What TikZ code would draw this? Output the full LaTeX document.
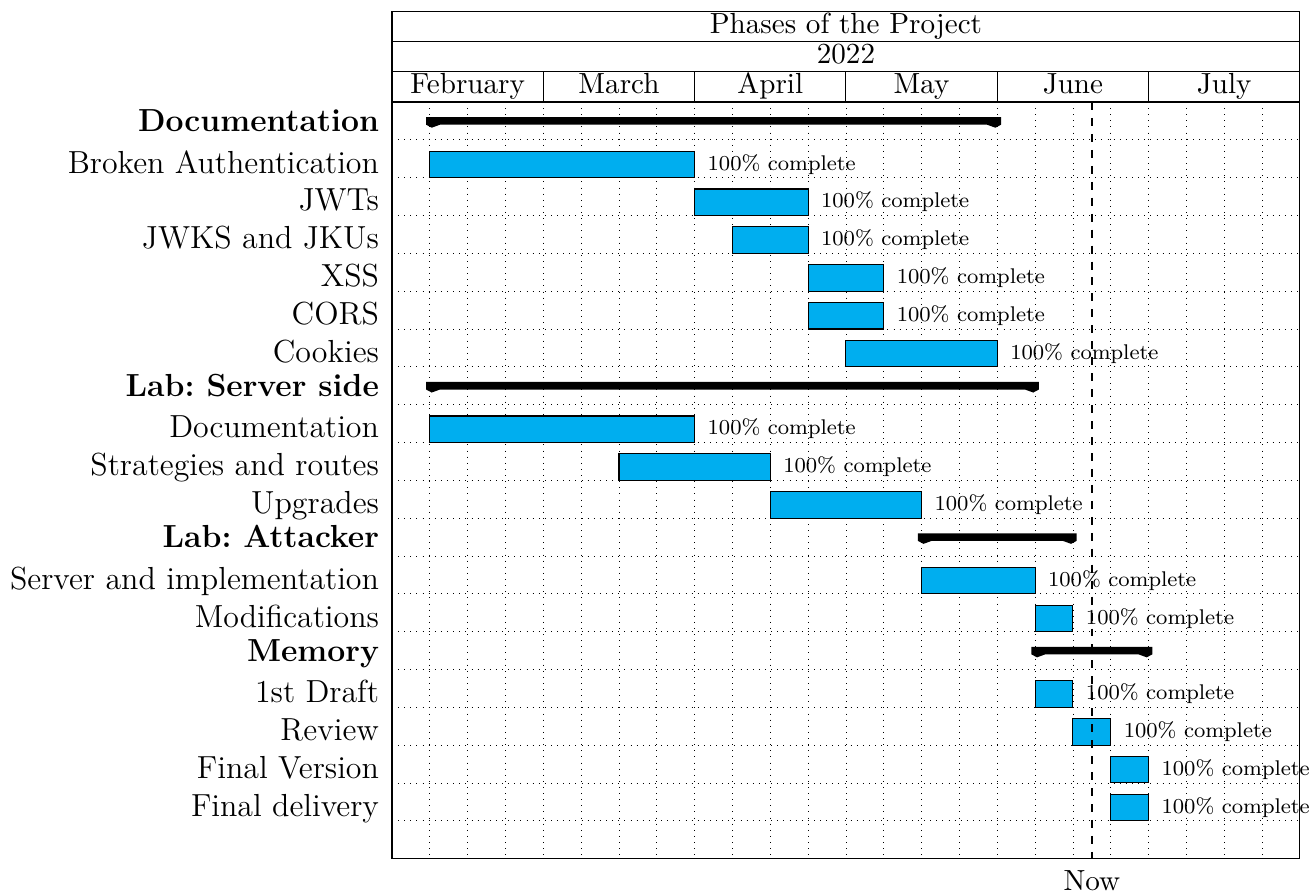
\documentclass[tikz,border=0pt]{standalone}
\usepackage{xcolor}
\usepackage{tikz}
\usetikzlibrary{calc}

\definecolor{barblue}{RGB}{0,174,239}

\tikzset{
	taskbar/.style={fill=barblue, draw=black},
	grouplabel/.style={anchor=base east, inner sep=0pt, font=\fontsize{12}{14}\selectfont\bfseries\frenchspacing},
	tasklabel/.style={anchor=base east, inner sep=0pt, font=\fontsize{12}{14}\selectfont},
	donelabel/.style={anchor=base west, inner sep=0pt, font=\fontsize{8}{9.5}\selectfont},
	headtext/.style={anchor=base, inner sep=0pt, font=\fontsize{10.95}{13.6}\selectfont},
	gridline/.style={dotted, line width=0.3pt},
	nowline/.style={dashed, line width=1pt},
}

\begin{document}
\begin{tikzpicture}[x=0.5cm, y=-0.5cm]

	\useasboundingbox (-10.362,-2.696) rectangle (24.293,20.962);

	% grid
	\foreach \k in {1,...,23} \draw[gridline] (\k,0) -- (\k,20);
	\foreach \k in {1,...,19} \draw[gridline] (0,\k) -- (24,\k);

	% frame and header
	\draw (0,-2.4) rectangle (24,20);
	\draw (0,-1.6) -- (24,-1.6);
	\draw (0,-0.8) -- (24,-0.8);
	\draw (0,0) -- (24,0);
	\foreach \i in {1,...,5} \draw (4*\i,-0.8) -- (4*\i,0);

	\node[headtext] (title) at (12,-1.82) {Phases of the Project};
	\node[headtext] (year) at (12,-1.02) {2022};
	\foreach \m [count=\i from 0] in {February,March,April,May,June,July}
		\node[headtext] (month\i) at (4*\i+2,-0.22) {\m};

	% groups
	\foreach \r/\s/\e/\t in {0/1/16/Documentation, 7/1/17/Lab: Server side, 11/14/18/Lab: Attacker, 14/17/20/Memory}
	{
		\fill (\s-0.1,\r+0.4) -- (\e+0.1,\r+0.4) -- (\e+0.1,\r+0.6) -- (\e-0.05,\r+0.68)
			-- (\e-0.27,\r+0.6) -- (\s+0.27,\r+0.6) -- (\s+0.05,\r+0.68) -- (\s-0.1,\r+0.6) -- cycle;
		\node[grouplabel] (group\r) at (-0.33,\r+0.78) {\t};
	}

	% tasks
	\foreach \r/\s/\e/\t in {1/1/8/Broken Authentication, 2/8/11/JWTs, 3/9/11/JWKS and JKUs,
		4/11/13/XSS, 5/11/13/CORS, 6/12/16/Cookies, 8/1/8/Documentation,
		9/6/10/Strategies and routes, 10/10/14/Upgrades, 12/14/17/Server and implementation,
		13/17/18/Modifications, 15/17/18/1st Draft, 16/18/19/Review,
		17/19/20/Final Version, 18/19/20/Final delivery}
	{
		\filldraw[taskbar] (\s,\r+0.3) rectangle (\e,\r+1);
		\node[tasklabel] (task\r) at (-0.33,\r+0.88) {\t};
		\node[donelabel] (done\r) at (\e+0.33,\r+0.8) {100\% complete};
	}

	% today
	\coordinate (nowtop) at (18.5,0);
	\coordinate (nowend) at (18.5,20);
	\node[headtext] (now) at (18.5,20.85) {Now};
	\draw[nowline] (nowtop) -- (nowend);

\end{tikzpicture}
\end{document}
